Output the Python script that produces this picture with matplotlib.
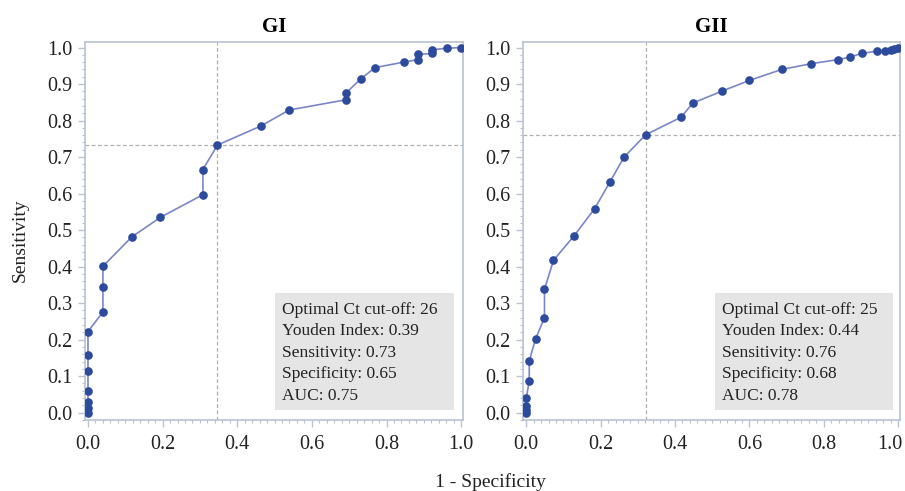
import matplotlib
matplotlib.use("Agg")
import matplotlib.pyplot as plt
import matplotlib.transforms as mtransforms
from matplotlib.ticker import MultipleLocator
from matplotlib.patches import Rectangle

# ---- data ----
gi_fpr = [0.0, 0.0, 0.0, 0.0, 0.0, 0.0, 0.0, 0.040, 0.040, 0.040, 0.117, 0.194,
          0.308, 0.308, 0.347, 0.463, 0.539, 0.692, 0.692, 0.731, 0.769, 0.846,
          0.885, 0.885, 0.923, 0.923, 0.961, 1.0]
gi_tpr = [0.0, 0.013, 0.030, 0.060, 0.114, 0.159, 0.222, 0.276, 0.345, 0.401, 0.481, 0.535,
          0.597, 0.666, 0.733, 0.785, 0.829, 0.857, 0.876, 0.914, 0.945, 0.960,
          0.967, 0.981, 0.984, 0.994, 0.998, 1.0]

gii_fpr = [0.0, 0.0, 0.0, 0.0, 0.008, 0.008, 0.025, 0.049, 0.049, 0.073, 0.129, 0.184,
           0.225, 0.263, 0.321, 0.416, 0.448, 0.527, 0.600, 0.687, 0.767, 0.839,
           0.870, 0.903, 0.942, 0.966, 0.980, 0.989, 1.0]
gii_tpr = [0.0, 0.008, 0.017, 0.040, 0.087, 0.142, 0.202, 0.260, 0.338, 0.417, 0.485, 0.559,
           0.632, 0.700, 0.761, 0.809, 0.848, 0.881, 0.910, 0.940, 0.956, 0.967,
           0.974, 0.984, 0.990, 0.990, 0.993, 0.996, 1.0]

titles = ["GI", "GII"]
cut_fpr = [0.347, 0.321]
cut_tpr = [0.733, 0.761]
info = [
    ["Optimal Ct cut-off: 26", "Youden Index: 0.39", "Sensitivity: 0.73",
     "Specificity: 0.65", "AUC: 0.75"],
    ["Optimal Ct cut-off: 25", "Youden Index: 0.44", "Sensitivity: 0.76",
     "Specificity: 0.68", "AUC: 0.78"],
]
ticks = [0.0, 0.2, 0.4, 0.6, 0.8, 1.0]
yticks = [0.0, 0.1, 0.2, 0.3, 0.4, 0.5, 0.6, 0.7, 0.8, 0.9, 1.0]

plt.rcParams['font.family'] = ['Liberation Serif', 'DejaVu Serif']

W, H = 905, 491
fig = plt.figure(figsize=(W / 100, H / 100), dpi=100)

frame_col = "#b9c2d3"
line_col = "#7b86c9"
mark_col = "#2d4b9c"
dash_col = "#b0b0b0"

boxes = [(85, 41.7, 463, 420), (523.3, 41.7, 900, 420)]
series = [(gi_fpr, gi_tpr), (gii_fpr, gii_tpr)]
box_x0 = [0.502, 0.507]
text_x0 = [0.521, 0.527]

for i in range(2):
    l, t, r, b = boxes[i]
    ax = fig.add_axes([l / W, (H - b) / H, (r - l) / W, (b - t) / H])
    fx, ty = series[i]
    ax.axvline(cut_fpr[i], color=dash_col, lw=0.9, ls=(0, (3, 2)), zorder=1)
    ax.axhline(cut_tpr[i], color=dash_col, lw=0.9, ls=(0, (3, 2)), zorder=1)
    ax.plot(fx, ty, color=line_col, lw=1.2, zorder=2)
    ax.plot(fx, ty, ls="none", marker="o", ms=5.2, color=mark_col, zorder=3)
    ax.set_xlim(-0.008, 1.005)
    ax.set_ylim(-0.02, 1.016)
    ax.set_xticks(ticks)
    ax.set_xticklabels([f"{v:.1f}" for v in ticks])
    ax.set_yticks(yticks)
    ax.set_yticklabels([f"{v:.1f}" for v in yticks])
    ax.xaxis.set_minor_locator(MultipleLocator(0.02))
    ax.yaxis.set_minor_locator(MultipleLocator(0.02))
    ax.tick_params(axis="both", which="major", length=5, width=1, color=frame_col,
                   labelsize=14.5, labelcolor="#222222", pad=4)
    ax.tick_params(axis="x", which="major", pad=6)
    ax.tick_params(axis="both", which="minor", length=2.5, width=0.8, color=frame_col)
    for s in ax.spines.values():
        s.set_color(frame_col)
        s.set_linewidth(1.2)
    ax.set_title(titles[i], fontsize=15, fontweight="bold", pad=7)
    ax.add_patch(Rectangle((box_x0[i], 0.007), 0.48, 0.321, fc="#e5e5e5",
                           ec="none", zorder=4))
    for k, line in enumerate(info[i]):
        ax.text(text_x0[i], 0.281 - k * 0.0586, line, fontsize=12.5,
                va="center", ha="left", color="#222222", zorder=5)
    if i == 1:
        lab = ax.get_xticklabels()[-1]
        lab.set_transform(lab.get_transform() +
                          mtransforms.ScaledTranslation(-8 / 100, 0, fig.dpi_scale_trans))

fig.text(20 / W, 1 - 240 / H, "Sensitivity", rotation=90, ha="center", va="center",
         fontsize=14, color="#222222")
fig.text(490 / W, 1 - 482 / H, "1 - Specificity", ha="center", va="center",
         fontsize=14, color="#222222")

fig.savefig("out.png", dpi=100)
